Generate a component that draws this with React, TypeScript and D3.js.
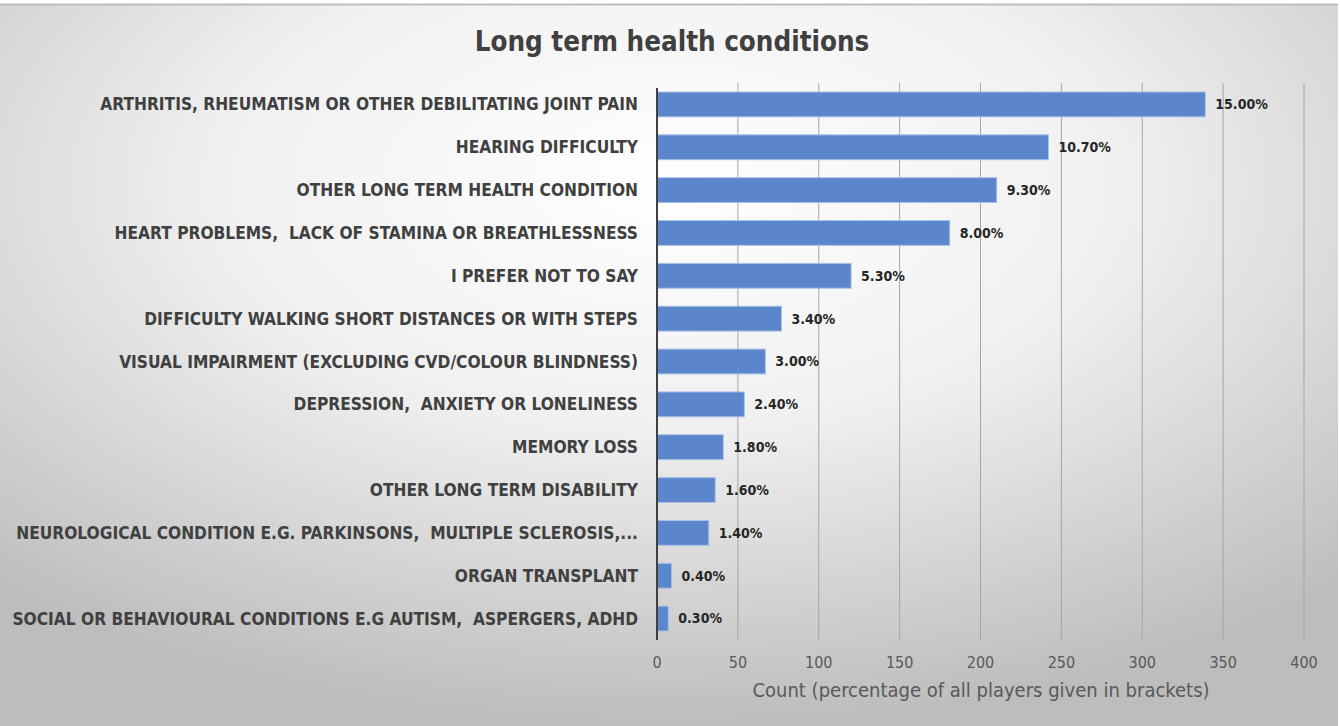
import React from "react";
import * as d3 from "d3";

const categories = [
  "ARTHRITIS, RHEUMATISM OR OTHER DEBILITATING JOINT PAIN",
  "HEARING DIFFICULTY",
  "OTHER LONG TERM HEALTH CONDITION",
  "HEART PROBLEMS,  LACK OF STAMINA OR BREATHLESSNESS",
  "I PREFER NOT TO SAY",
  "DIFFICULTY WALKING SHORT DISTANCES OR WITH STEPS",
  "VISUAL IMPAIRMENT (EXCLUDING CVD/COLOUR BLINDNESS)",
  "DEPRESSION,  ANXIETY OR LONELINESS",
  "MEMORY LOSS",
  "OTHER LONG TERM DISABILITY",
  "NEUROLOGICAL CONDITION E.G. PARKINSONS,  MULTIPLE SCLEROSIS,...",
  "ORGAN TRANSPLANT",
  "SOCIAL OR BEHAVIOURAL CONDITIONS E.G AUTISM,  ASPERGERS, ADHD",
];
const counts = [339, 242, 210, 181, 120, 77, 67, 54, 41, 36, 32, 9, 7];
const percentLabels = ["15.00%", "10.70%", "9.30%", "8.00%", "5.30%", "3.40%", "3.00%", "2.40%", "1.80%", "1.60%", "1.40%", "0.40%", "0.30%"];
const xTicks = [0, 50, 100, 150, 200, 250, 300, 350, 400];

const W = 1340;
const H = 726;
const left = 657;
const right = 1304;
const top = 83;
const bottom = 640;

export default function App() {
  const x = d3.scaleLinear().domain([0, 400]).range([left, right]);
  const y = d3.scaleBand<string>().domain(categories).range([top, bottom]).paddingInner(0.42).paddingOuter(0.21);
  const labelFont = "'DejaVu Sans Condensed', sans-serif";
  return (
    <svg width={W} height={H} style={{ position: "fixed", left: 0, top: 0 }}>
      <defs>
        <radialGradient id="bg" cx="50%" cy="25%" r="75%" fx="50%" fy="25%">
          <stop offset="0%" stopColor="#ffffff" />
          <stop offset="45%" stopColor="#f0f0f0" />
          <stop offset="100%" stopColor="#bdbdbd" />
        </radialGradient>
      </defs>
      <rect x={0} y={0} width={W} height={H} fill="#ffffff" />
      <rect x={0} y={4} width={W - 2} height={H - 4} fill="url(#bg)" />
      <line x1={0} x2={W - 2} y1={4.5} y2={4.5} stroke="#bdbdbd" strokeWidth={2} />
      <text x={672} y={51} textAnchor="middle" fontFamily={labelFont} fontWeight="bold" fontSize={27.5} fill="#404040">
        Long term health conditions
      </text>
      {xTicks.map((t) => (
        <g key={t}>
          {t > 0 && <line x1={x(t)} x2={x(t)} y1={top} y2={bottom} stroke="#a6a6a6" strokeWidth={1} />}
          <text x={x(t)} y={668} textAnchor="middle" fontFamily={labelFont} fontSize={16} fill="#595959">
            {t}
          </text>
        </g>
      ))}
      {categories.map((c, i) => {
        const yy = y(c)!;
        const bh = y.bandwidth();
        return (
          <g key={c}>
            <rect x={x(0)} y={yy} width={x(counts[i]) - x(0)} height={bh} fill="#5b86cc" stroke="#a9c1e8" strokeWidth={1} />
            <text x={x(counts[i]) + 10} y={yy + bh / 2} dy="0.35em" fontFamily={labelFont} fontWeight="bold" fontSize={14} fill="#262626">
              {percentLabels[i]}
            </text>
            <text x={638} y={yy + bh / 2} dy="0.35em" textAnchor="end" fontFamily={labelFont} fontWeight="bold" fontSize={17.2} fill="#404040" style={{ whiteSpace: "pre" }}>
              {c}
            </text>
          </g>
        );
      })}
      <line x1={x(0)} x2={x(0)} y1={88} y2={bottom} stroke="#404040" strokeWidth={2} />
      <text x={981} y={697} textAnchor="middle" fontFamily={labelFont} fontSize={20} fill="#595959">
        Count (percentage of all players given in brackets)
      </text>
    </svg>
  );
}
